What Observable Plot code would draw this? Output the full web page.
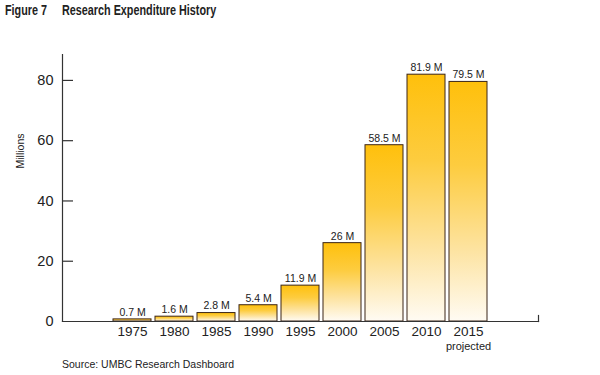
<!DOCTYPE html>
<html>
<head>
<meta charset="utf-8">
<script src="https://cdn.jsdelivr.net/npm/d3@7"></script>
<script src="https://cdn.jsdelivr.net/npm/@observablehq/plot@0.6"></script>
<style>
  body { margin: 0; background: #fff; }
  #wrap { position: relative; width: 600px; height: 375px; font-family: "Liberation Sans", Arial, sans-serif; color: #222; }
  #title { position: relative; height: 24px; font-family: "Liberation Sans", Arial, sans-serif; font-weight: bold; font-size: 15px; line-height: 20px; color: #222; white-space: pre; }
  #title span { position: absolute; top: 0; display: inline-block; transform: scaleX(0.72); transform-origin: 0 0; }
  #source { position: absolute; left: 62px; top: 358px; font-size: 10.5px; color: #222; }
  svg { display: block; overflow: visible !important; }
</style>
</head>
<body>
<div id="wrap">
  <div id="title"><span style="left:5px">Figure 7</span><span style="left:62px">Research Expenditure History</span></div>
  <div id="chart"></div>
  <div id="source">Source: UMBC Research Dashboard</div>
</div>
<script>
const years = ["1975", "1980", "1985", "1990", "1995", "2000", "2005", "2010", "2015"];
const values = [0.7, 1.6, 2.8, 5.4, 11.9, 26, 58.5, 81.9, 79.5];
const valueLabels = ["0.7 M", "1.6 M", "2.8 M", "5.4 M", "11.9 M", "26 M", "58.5 M", "81.9 M", "79.5 M"];
const yTicks = [0, 20, 40, 60, 80];
const projectedYear = "2015";
const projectedNote = "projected";
const yLabel = "Millions";

const data = years.map((y, i) => ({year: y, value: values[i], label: valueLabels[i]}));

const W = 600, H = 325;
const mL = 62, mR = 62, mT = 30, mB = 28;

const chart = Plot.plot({
  width: W,
  height: H,
  marginLeft: mL,
  marginRight: mR,
  marginTop: mT,
  marginBottom: mB,
  style: {fontFamily: "'Liberation Sans', Arial, sans-serif", color: "#222", background: "#fff", overflow: "visible"},
  x: {domain: years, range: [109.4, 491], paddingInner: 0.1, paddingOuter: 0.05},
  y: {domain: [0, 88.6]},
  marks: [
    Plot.rectY(data, {x: "year", y: "value", fill: "url(#barGrad)", stroke: "#3b2417", strokeWidth: 1}),
    Plot.text(data, {x: "year", y: "value", text: "label", dy: -7, fontSize: 10.5, fill: "#222"}),
    Plot.frame({anchor: "left", stroke: "#333", strokeWidth: 1.2}),
    Plot.frame({anchor: "bottom", stroke: "#333", strokeWidth: 1.2}),
    Plot.frame({anchor: "right", stroke: "#333", strokeWidth: 1.2, insetTop: 261}),
    Plot.ruleY(yTicks.filter(d => d > 0), {y: d => d, insetRight: W - mL - mR - 11, stroke: "#333", strokeWidth: 1.2}),
    Plot.axisY({ticks: yTicks, tickSize: 0, tickPadding: 9, fontSize: 14.5, label: null}),
    Plot.axisX({tickSize: 0, tickPadding: 5, fontSize: 13.5, label: null}),
    Plot.text([projectedYear], {x: d => d, y: 0, text: () => projectedNote, dy: 25, fontSize: 11, fill: "#222"}),
    Plot.text([yLabel], {frameAnchor: "left", dx: -42, dy: -19.5, rotate: -90, fontSize: 10.5, fill: "#222"})
  ]
});

// gradient definition for bars (per-bar vertical fade)
const svgNS = "http://www.w3.org/2000/svg";
const defs = document.createElementNS(svgNS, "defs");
const grad = document.createElementNS(svgNS, "linearGradient");
grad.setAttribute("id", "barGrad");
grad.setAttribute("x1", "0"); grad.setAttribute("y1", "0");
grad.setAttribute("x2", "0"); grad.setAttribute("y2", "1");
[["0", "#ffc00c"], ["0.35", "#fdcc3f"], ["0.7", "#fde3a0"], ["1", "#fffbf3"]].forEach(([o, c]) => {
  const s = document.createElementNS(svgNS, "stop");
  s.setAttribute("offset", o);
  s.setAttribute("stop-color", c);
  grad.appendChild(s);
});
defs.appendChild(grad);
chart.insertBefore(defs, chart.firstChild);

document.getElementById("chart").appendChild(chart);
</script>
</body>
</html>
